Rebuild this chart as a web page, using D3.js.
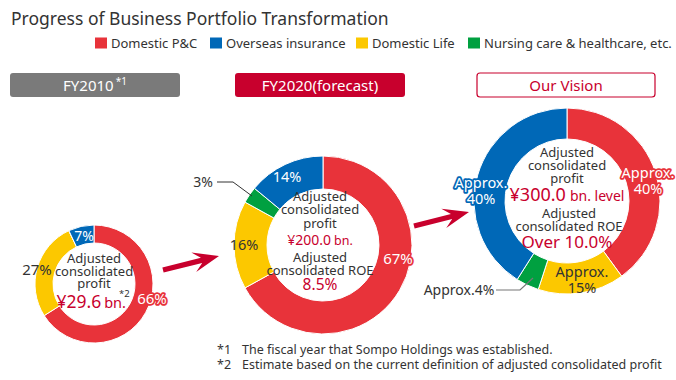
<html>
<head>
<script src="https://d3js.org/d3.v7.min.js"></script>
<style>
  body { margin: 0; background: #fff; }
  svg text { font-family: "Noto Sans", "Open Sans", sans-serif; }
</style>
</head>
<body>
<svg width="676" height="380"></svg>
<script>
// business segments, in the order the legend shows them
const segments = ["Domestic P&C", "Overseas insurance", "Domestic Life", "Nursing care & healthcare, etc."];
const segColors = ["#e8333a", "#0068b7", "#fcc800", "#00a040"];

// pie order (clockwise from 12 o'clock)
const pieOrder = ["Domestic P&C", "Domestic Life", "Nursing care & healthcare, etc.", "Overseas insurance"];
const share2010 = [66, 27, 0, 7];
const share2020 = [67, 16, 3, 14];
const shareVision = [40, 15, 4, 41];
const labelVision = ["Approx.|40%", "Approx.|15%", "Approx.4%", "Approx.|40%"];

const headers = ["FY2010", "FY2020(forecast)", "Our Vision"];
const profitText = ["¥29.6", "¥200.0", "¥300.0"];
const roeText = [null, "8.5%", "Over 10.0%"];
const footnotes = [
  ["*1", "The fiscal year that Sompo Holdings was established."],
  ["*2", "Estimate based on the current definition of adjusted consolidated profit"]
];

const svg = d3.select("svg");
const color = d3.scaleOrdinal().domain(segments).range(segColors);
const darkRed = "#c8002d";
const textCol = "#333";

// title
svg.append("text").attr("x", 11).attr("y", 25)
  .attr("font-size", 17.5).attr("fill", textCol)
  .text("Progress of Business Portfolio Transformation");

// legend
const legX = [95, 210, 356, 468];
const leg = svg.append("g");
segments.forEach(function (s, i) {
  leg.append("rect").attr("x", legX[i]).attr("y", 37.5).attr("width", 12).attr("height", 11)
    .attr("fill", color(s));
  leg.append("text").attr("x", legX[i] + 16).attr("y", 48).attr("font-size", 13)
    .attr("fill", textCol).text(s);
});

// header boxes
const boxes = [
  { x: 10, w: 170, fill: "#7a7a7a", stroke: "none", tc: "#fff" },
  { x: 235, w: 170, fill: darkRed, stroke: "none", tc: "#fff" },
  { x: 477, w: 178, fill: "#fff", stroke: darkRed, tc: darkRed }
];
boxes.forEach(function (b, i) {
  svg.append("rect").attr("x", b.x).attr("y", 73).attr("width", b.w).attr("height", 24)
    .attr("rx", 3).attr("fill", b.fill).attr("stroke", b.stroke).attr("stroke-width", 1.2);
  const t = svg.append("text").attr("x", b.x + b.w / 2).attr("y", 91)
    .attr("text-anchor", "middle").attr("font-size", 15).attr("fill", b.tc).text(headers[i]);
  if (i == 0) {
    t.append("tspan").attr("dy", -6).attr("dx", 2).attr("font-size", 10).text("*1");
  }
});

// donut layouts
const donuts = [
  { cx: 94, cy: 284, r: 59, ir: 41, data: share2010 },
  { cx: 323, cy: 245, r: 89, ir: 56, data: share2020 },
  { cx: 567, cy: 201, r: 93, ir: 62, data: shareVision }
];

const pie = d3.pie().sort(null).value(function (d) { return d; });

donuts.forEach(function (dn) {
  const arc = d3.arc().innerRadius(dn.ir).outerRadius(dn.r);
  const g = svg.append("g").attr("transform", "translate(" + dn.cx + "," + dn.cy + ")");
  g.selectAll("path").data(pie(dn.data)).enter().append("path")
    .attr("d", arc)
    .attr("fill", function (d, i) { return color(pieOrder[i]); })
    .attr("stroke", "#fff").attr("stroke-width", 1);
  dn.g = g;
});

function label(g, x, y, lines, size, fill, halo) {
  const t = g.append("text").attr("x", x).attr("y", y).attr("text-anchor", "middle")
    .attr("font-size", size).attr("fill", fill);
  if (halo) {
    t.attr("stroke", halo).attr("stroke-width", 3.5).attr("stroke-linejoin", "round")
      .attr("paint-order", "stroke");
  }
  lines.forEach(function (l, k) {
    t.append("tspan").attr("x", x).attr("dy", k == 0 ? 0 : size * 1.08).text(l);
  });
  return t;
}

// segment labels, 2010
let g = donuts[0].g;
label(g, 58, 20, [share2010[0] + "%"], 15, "#fff", segColors[0]);
label(g, -57, -9, [share2010[1] + "%"], 15, textCol);
label(g, -10, -43, [share2010[3] + "%"], 14, "#fff");

// 2020
g = donuts[1].g;
label(g, 75, 19, [share2020[0] + "%"], 15, "#fff", segColors[0]);
label(g, -79, 5, [share2020[1] + "%"], 14.5, textCol);
label(g, -120, -58, [share2020[2] + "%"], 14, textCol);
label(g, -36, -63, [share2020[3] + "%"], 14.5, "#fff");
g.append("polyline").attr("points", [[-106, -63], [-90, -63], [-71, -49]].join(" "))
  .attr("fill", "none").attr("stroke", textCol).attr("stroke-width", 1);

// vision
g = donuts[2].g;
label(g, 81, -23, labelVision[0].split("|"), 14.5, "#fff", segColors[0]);
label(g, 15, 76, labelVision[1].split("|"), 14.5, textCol);
label(g, -108, 94, [labelVision[2]], 14, textCol);
label(g, -86, -13, labelVision[3].split("|"), 14.5, "#fff", segColors[1]);
g.append("polyline").attr("points", [[-71, 89], [-47, 89], [-34, 77]].join(" "))
  .attr("fill", "none").attr("stroke", "#777").attr("stroke-width", 1.2);

// center texts: one text element per block, lines as tspans
function block(x, y, lines, size, gap) {
  const t = svg.append("text").attr("x", x).attr("y", y).attr("text-anchor", "middle")
    .attr("font-size", size).attr("fill", textCol);
  lines.forEach(function (l, k) {
    t.append("tspan").attr("x", x).attr("dy", k == 0 ? 0 : gap).text(l);
  });
  return t;
}

// 2010
block(94, 263, ["Adjusted", "consolidated", "profit"], 13, 12.7);
let pt = svg.append("text").attr("x", 93).attr("y", 308).attr("text-anchor", "middle")
  .attr("fill", darkRed).attr("font-size", 17.5).text(profitText[0]);
pt.append("tspan").attr("font-size", 14.5).attr("dx", 3).text("bn.");
pt.append("tspan").attr("font-size", 9.5).attr("fill", textCol).attr("dx", -7).attr("dy", -11).text("*2");

// 2020
block(320, 201, ["Adjusted", "consolidated", "profit"], 13, 13.3);
pt = svg.append("text").attr("x", 320).attr("y", 244.5).attr("text-anchor", "middle")
  .attr("fill", darkRed).attr("font-size", 14).text(profitText[1]);
pt.append("tspan").attr("font-size", 12.5).attr("dx", 3).text("bn.");
block(320, 262, ["Adjusted", "consolidated ROE"], 13, 13.3);
svg.append("text").attr("x", 320).attr("y", 290).attr("text-anchor", "middle")
  .attr("font-size", 15.5).attr("fill", darkRed).text(roeText[1]);

// vision
block(567, 157, ["Adjusted", "consolidated", "profit"], 13, 13.2);
pt = svg.append("text").attr("x", 567).attr("y", 201).attr("text-anchor", "middle")
  .attr("fill", darkRed).attr("font-size", 18).text(profitText[2]);
pt.append("tspan").attr("font-size", 14).attr("dx", 4).text("bn. level");
block(569, 218, ["Adjusted", "consolidated ROE"], 13, 13.3);
svg.append("text").attr("x", 567).attr("y", 248).attr("text-anchor", "middle")
  .attr("font-size", 17).attr("fill", darkRed).text(roeText[2]);

// arrows
function arrow(sx, sy, tx, ty) {
  const len = Math.hypot(tx - sx, ty - sy);
  const ux = (tx - sx) / len, uy = (ty - sy) / len;
  const nx = -uy, ny = ux;
  const w = 2.6, hl = 26, hw = 10, notch = 18;
  const bx = tx - ux * notch, by = ty - uy * notch;
  const hx = tx - ux * hl, hy = ty - uy * hl;
  const pts = [
    [sx + nx * w, sy + ny * w], [bx + nx * w, by + ny * w], [hx + nx * hw, hy + ny * hw],
    [tx, ty],
    [hx - nx * hw, hy - ny * hw], [bx - nx * w, by - ny * w], [sx - nx * w, sy - ny * w]
  ];
  svg.append("path").attr("d", d3.line()(pts) + "Z").attr("fill", darkRed);
}
arrow(163, 270, 219, 256);
arrow(414, 226, 469, 212);

// footnotes
footnotes.forEach(function (f, i) {
  svg.append("text").attr("x", 217).attr("y", 354 + i * 15).attr("font-size", 12.5)
    .attr("fill", textCol).text(f[0]);
  svg.append("text").attr("x", 242).attr("y", 354 + i * 15).attr("font-size", 12.5)
    .attr("fill", textCol).text(f[1]);
});
</script>
</body>
</html>
